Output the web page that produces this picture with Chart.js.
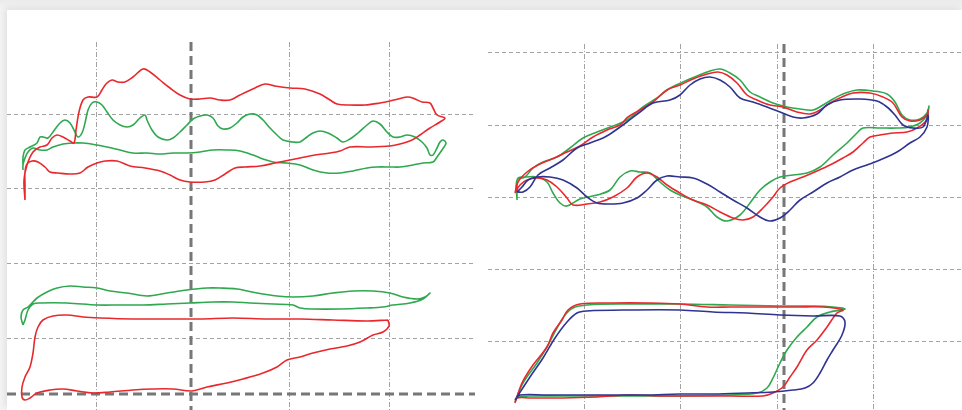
<!DOCTYPE html>
<html>
<head>
<meta charset="utf-8">
<script src="https://cdn.jsdelivr.net/npm/chart.js@4/dist/chart.umd.min.js"></script>
<style>
  html, body { margin:0; padding:0; width:962px; height:410px; overflow:hidden;
               background:linear-gradient(#ebebeb, #f4f4f4 10px, #f4f4f4); }
  #card { position:absolute; left:7px; top:10px; width:955px; height:400px; background:#fff;
          box-shadow:-2px -2px 7px rgba(0,0,0,0.09); }
  canvas { position:absolute; }
  #cl { left:7px; top:42px; }
  #cr { left:488px; top:44px; }
</style>
</head>
<body>
<div id="card"></div>
<canvas id="cl" width="468" height="368"></canvas>
<canvas id="cr" width="474" height="366"></canvas>
<script>
// ---------- grid / reference values (data units) ----------
const leftGridX  = [8.9, 28.2, 38.2];
const leftGridY  = [29.6, 22.2, 14.7, 7.2];
const leftRefX   = [18.4];
const leftRefY   = [1.6];
const rightGridX = [9.6, 19.2, 28.9, 38.5];
const rightGridY = [35.8, 28.5, 21.3, 14.1, 6.9];
const rightRefX  = [29.6];
const rightRefY  = [];

// ---------- left, upper loops ----------
const ltRed = [[1.8,21.0],[1.7,23.0],[2.0,24.5],[2.6,25.8],[3.3,26.3],[4.0,26.5],[4.5,27.2],[5.0,27.5],[5.6,27.3],[6.3,26.9],[6.7,26.7],[6.9,28.0],[7.2,29.8],[7.6,31.0],[8.1,31.3],[9.0,31.3],[9.5,32.0],[9.9,32.6],[10.5,33.0],[11.1,32.8],[11.8,32.8],[12.6,33.3],[13.6,34.1],[14.3,33.8],[15.3,33.0],[16.3,32.2],[17.3,31.5],[18.3,31.1],[19.3,31.1],[20.3,31.2],[21.3,31.0],[22.3,31.0],[23.3,31.5],[24.8,32.2],[25.8,32.6],[26.8,32.4],[28.3,32.2],[29.8,32.1],[31.3,31.6],[32.3,31.0],[33.0,30.6],[34.3,30.5],[35.8,30.5],[37.3,30.7],[38.3,30.9],[39.1,31.1],[40.1,31.3],[40.8,31.1],[41.5,30.8],[42.3,30.7],[42.6,30.2],[43.0,29.5],[43.8,29.2],
  [43.3,28.8],[42.3,28.2],[41.3,27.5],[40.5,27.0],[39.3,26.6],[38.3,26.4],[36.3,26.3],[34.3,26.3],[33.3,25.9],[32.3,25.7],[30.8,25.5],[29.3,25.2],[28.3,25.0],[26.8,24.7],[25.3,24.4],[23.8,24.3],[22.8,24.2],[21.8,23.6],[20.8,23.0],[19.8,22.8],[18.3,22.8],[17.3,23.0],[16.3,23.5],[15.3,23.9],[13.8,24.2],[12.3,24.4],[11.0,24.9],[9.8,24.9],[9.0,24.7],[8.1,24.3],[7.3,23.7],[6.3,23.6],[5.1,23.7],[4.3,23.8],[3.8,24.3],[3.1,24.8],[2.5,24.9],[2.0,24.6],[1.8,23.8],[1.8,22.5],[1.8,21.0]];
const ltGreen = [[1.6,24.5],[1.6,25.3],[1.8,26.0],[2.3,26.3],[3.0,26.7],[3.3,27.3],[3.6,27.3],[4.1,27.2],[4.6,27.8],[5.3,28.7],[5.8,29.0],[6.3,28.7],[6.8,27.8],[7.1,27.3],[7.5,27.7],[7.8,28.7],[8.1,30.0],[8.5,30.7],[9.0,30.8],[9.5,30.5],[10.0,29.8],[10.6,29.0],[11.3,28.5],[12.0,28.3],[12.6,28.5],[13.3,29.2],[13.8,29.5],[14.0,29.0],[14.5,28.0],[15.1,27.3],[16.0,27.0],[16.6,27.2],[17.3,27.8],[18.0,28.5],[18.6,29.1],[19.3,29.4],[20.0,29.5],[20.6,29.2],[21.1,28.4],[21.6,28.1],[22.3,28.2],[23.0,28.7],[23.6,29.3],[24.3,29.6],[25.0,29.5],[25.6,29.0],[26.3,28.2],[27.0,27.5],[27.6,27.0],[28.6,26.8],[29.3,26.8],[30.0,27.3],[30.6,27.7],[31.3,27.9],[32.1,27.7],[33.0,27.2],[33.6,26.8],[34.3,27.1],[35.1,27.7],[36.0,28.5],[36.6,28.9],[37.3,28.6],[38.0,27.8],[38.6,27.3],[39.3,27.3],[40.0,27.5],[40.8,27.3],[41.5,26.8],[42.0,26.2],[42.3,25.5],[42.6,25.5],[43.0,26.2],[43.3,26.8],[43.6,27.0],[43.9,26.7],[43.7,26.3],
  [43.0,25.3],[42.6,24.8],[41.6,24.7],[40.6,24.5],[39.3,24.3],[38.3,24.3],[37.0,24.3],[36.0,24.2],[34.6,23.9],[33.3,23.7],[32.0,23.7],[30.6,24.0],[29.3,24.5],[28.0,24.7],[26.6,24.8],[25.6,25.1],[24.6,25.5],[23.3,25.9],[22.0,26.0],[20.6,26.0],[19.3,25.8],[18.0,25.7],[16.6,25.7],[15.3,25.6],[14.0,25.7],[12.6,25.7],[11.3,26.0],[10.0,26.3],[9.0,26.5],[7.6,26.7],[6.6,26.7],[5.6,26.6],[4.6,26.3],[4.0,26.0],[3.3,26.0],[2.6,26.2],[2.1,25.8],[1.8,25.2],[1.6,24.5],[1.6,24.0]];

// ---------- left, lower loops ----------
const lbGreen = [[1.6,8.5],[1.4,9.3],[1.6,10.0],[2.1,10.3],[3.0,11.2],[4.0,11.8],[5.0,12.2],[6.3,12.4],[7.6,12.3],[9.0,12.2],[10.3,11.9],[12.0,11.7],[14.0,11.4],[16.0,11.7],[18.0,12.0],[20.0,12.2],[21.3,12.2],[23.0,12.1],[25.0,11.7],[27.0,11.4],[28.6,11.3],[30.6,11.4],[32.6,11.7],[34.6,11.9],[36.6,11.9],[38.3,11.7],[39.6,11.3],[41.0,11.1],[41.8,11.3],[42.3,11.7],
  [41.6,11.1],[40.3,10.7],[38.6,10.5],[37.6,10.3],[36.0,10.2],[33.3,10.1],[30.6,10.1],[29.3,10.2],[28.6,10.5],[26.6,10.6],[24.3,10.7],[22.6,10.8],[20.6,10.8],[18.3,10.7],[16.0,10.6],[13.6,10.5],[11.3,10.5],[9.0,10.5],[6.0,10.7],[3.3,10.7],[2.6,10.6],[2.1,10.0],[1.8,9.0],[1.6,8.5]];
const lbRed = [[38.1,9.0],[36.0,8.9],[32.6,9.0],[29.3,9.1],[26.0,9.1],[22.6,9.2],[19.3,9.1],[16.0,9.1],[12.6,9.1],[9.3,9.2],[7.6,9.3],[6.0,9.5],[4.6,9.4],[3.6,9.0],[3.1,8.3],[2.8,7.3],[2.6,5.7],[2.3,4.3],[1.8,3.3],[1.5,2.3],[1.5,1.3],[1.8,1.0],[2.3,1.2],[3.0,1.7],[4.3,2.0],[5.6,2.1],[7.0,1.9],[8.6,1.7],[10.3,1.8],[12.6,2.0],[14.6,2.1],[16.6,2.1],[18.5,1.9],[20.0,2.3],[22.0,2.7],[23.6,3.1],[25.6,3.7],[27.0,4.3],[28.0,5.0],[29.3,5.3],[30.6,5.7],[32.3,6.1],[34.0,6.4],[35.3,6.8],[36.6,7.5],[37.6,7.8],[38.2,8.4],[38.1,9.0]];

// ---------- right, upper loops ----------
const rtBlue = [[2.9,21.8],[3.5,21.8],[4.2,22.3],[5.0,23.5],[6.2,24.2],[7.5,25.0],[8.9,26.2],[10.2,26.7],[11.5,27.2],[12.5,27.8],[13.9,28.8],[15.2,29.8],[16.5,30.7],[18.2,31.0],[19.2,31.5],[20.2,32.5],[21.2,33.1],[22.2,33.3],[23.2,33.0],[24.2,32.3],[25.2,31.2],[26.5,30.8],[27.9,30.3],[29.2,29.8],[30.5,29.3],[31.5,29.2],[32.9,29.6],[33.9,30.5],[35.2,31.0],[37.2,31.1],[38.9,30.9],[39.9,30.3],[40.7,29.5],[41.5,28.5],[42.5,28.2],[43.5,28.3],[44.0,29.5],
  [43.9,28.3],[43.2,27.3],[42.2,26.7],[40.9,25.8],[39.2,25.0],[37.9,24.5],[36.5,24.0],[35.2,23.3],[33.9,22.7],[32.5,21.8],[31.2,21.0],[30.2,20.0],[29.2,19.2],[28.2,18.9],[27.2,19.3],[25.9,20.2],[24.5,21.0],[23.2,21.8],[21.9,22.6],[20.5,23.2],[19.2,23.3],[17.9,23.4],[16.9,23.0],[15.9,22.0],[14.9,21.2],[13.5,20.7],[12.2,20.6],[10.9,20.7],[9.9,21.3],[8.9,22.2],[7.5,23.0],[6.2,23.3],[4.9,23.3],[4.0,23.0],[3.4,22.3],[2.9,21.8]];
const rtRed = [[2.7,21.7],[3.0,22.8],[3.9,23.8],[5.0,24.5],[6.4,25.1],[7.9,25.8],[9.2,26.4],[10.5,27.3],[11.9,28.0],[13.2,28.5],[14.0,29.3],[15.2,30.0],[16.5,30.8],[17.9,32.0],[19.2,32.5],[20.5,33.1],[21.9,33.6],[23.0,33.8],[23.9,33.5],[24.9,32.7],[25.9,31.5],[26.9,31.0],[28.2,30.5],[29.5,30.3],[30.9,29.8],[32.2,29.6],[33.2,30.0],[34.2,30.7],[35.4,31.3],[36.5,31.7],[38.2,31.7],[39.5,31.3],[40.5,30.7],[41.4,29.3],[42.2,28.9],[43.2,29.0],[43.9,29.5],[44.0,30.0],
  [43.9,29.0],[42.9,28.2],[41.9,27.8],[40.5,27.7],[39.2,27.5],[38.2,27.3],[37.5,26.7],[36.5,25.8],[35.5,25.2],[34.2,24.5],[32.9,23.9],[31.5,23.3],[30.2,22.8],[29.2,22.2],[28.5,21.3],[27.5,20.2],[26.5,19.3],[25.5,19.0],[24.5,19.2],[23.2,19.8],[21.9,20.5],[20.5,21.0],[19.2,21.7],[17.9,22.5],[16.9,23.3],[15.9,23.7],[14.9,23.3],[13.9,22.2],[12.5,21.3],[11.2,20.8],[9.9,20.6],[8.5,20.5],[7.9,21.2],[6.9,22.3],[5.9,23.0],[4.9,23.2],[3.9,23.0],[3.2,22.5],[2.7,21.7]];
const rtGreen = [[2.9,21.0],[2.9,23.0],[3.7,23.3],[4.5,24.2],[5.5,24.8],[6.9,25.3],[8.2,26.2],[9.5,27.2],[10.9,27.8],[12.5,28.4],[13.9,29.0],[15.5,30.3],[16.9,31.2],[17.9,32.0],[19.5,32.8],[20.9,33.4],[22.2,33.9],[23.2,34.1],[24.2,33.7],[25.2,33.0],[26.2,31.8],[27.2,31.3],[28.5,30.7],[29.9,30.3],[31.2,30.1],[32.5,30.0],[33.5,30.5],[34.5,31.1],[35.5,31.6],[36.9,32.0],[38.5,31.9],[39.9,31.6],[40.7,30.8],[41.4,29.5],[42.2,29.0],[43.2,29.1],[43.9,29.7],[44.1,30.4],
  [43.9,29.5],[43.2,28.7],[42.2,28.3],[40.9,28.2],[39.2,28.2],[37.5,28.2],[36.9,27.7],[35.9,26.7],[34.5,25.5],[33.2,24.3],[31.9,23.7],[30.5,23.5],[29.2,23.3],[28.2,22.8],[27.2,22.0],[26.2,20.7],[25.2,19.5],[23.9,18.9],[22.9,19.3],[21.9,20.3],[20.5,21.0],[19.2,21.5],[18.2,22.0],[17.2,22.8],[16.2,23.7],[15.2,23.8],[14.2,23.9],[13.2,23.3],[12.2,22.0],[10.9,21.5],[9.2,21.1],[7.9,20.4],[7.2,20.7],[6.5,21.7],[5.9,22.8],[4.9,23.3],[3.9,23.3],[3.0,23.2],[2.9,22.3],[2.9,21.0]];

// ---------- right, lower loops ----------
const rbRed = [[2.7,0.7],[3.4,2.7],[4.5,4.5],[5.9,6.3],[6.5,7.7],[7.4,9.0],[8.0,10.0],[9.2,10.6],[12.5,10.7],[15.9,10.7],[19.2,10.6],[21.9,10.3],[24.2,10.3],[27.5,10.3],[30.9,10.3],[33.5,10.3],[35.5,10.0],
  [34.9,9.7],[33.9,8.3],[32.9,7.0],[31.9,6.0],[30.9,4.3],[30.2,3.3],[29.5,2.3],[28.5,1.7],[27.5,1.4],[24.2,1.4],[20.9,1.4],[17.5,1.4],[14.2,1.5],[10.9,1.3],[7.5,1.2],[4.2,1.2],[2.9,1.2],[2.7,0.7]];
const rbBlue = [[2.7,1.0],[4.2,3.3],[5.5,5.2],[6.7,7.2],[7.9,8.8],[8.9,9.7],[9.9,9.9],[14.2,10.0],[19.2,10.0],[22.5,9.8],[25.9,9.7],[29.2,9.5],[32.5,9.4],[35.2,9.4],[35.7,8.8],
  [35.4,7.5],[34.5,6.0],[33.9,5.0],[33.2,3.7],[32.5,2.7],[31.7,2.2],[30.5,2.0],[28.5,1.8],[25.9,1.7],[22.5,1.6],[19.2,1.6],[15.9,1.5],[12.5,1.5],[9.2,1.5],[5.9,1.5],[3.2,1.5],[2.7,1.0]];
const rbGreen = [[2.7,0.8],[3.5,2.7],[4.9,4.7],[6.0,6.5],[6.9,8.2],[7.7,9.5],[8.5,10.2],[9.9,10.5],[14.2,10.6],[19.2,10.6],[24.2,10.5],[29.2,10.4],[32.5,10.4],[34.5,10.3],[35.7,10.1],
  [34.2,9.8],[32.9,9.3],[31.9,8.3],[30.9,7.3],[29.9,6.0],[29.2,4.7],[28.5,3.2],[27.9,2.2],[26.9,1.7],[24.2,1.5],[19.2,1.4],[14.2,1.4],[9.2,1.4],[4.2,1.4],[2.9,1.3]];

const RED = '#e9282d', GREEN = '#2fa84f', BLUE = '#2f3391';

function ds(arr, color) {
  return {
    data: arr.map(p => ({x:p[0], y:p[1]})),
    showLine: true, borderColor: color, backgroundColor: color,
    borderWidth: 1.6, pointRadius: 0, tension: 0.35, fill: false
  };
}

const gridPlugin = {
  id: 'gridPlugin',
  beforeDatasetsDraw(chart, args, opts) {
    const {ctx, chartArea: a, scales: {x, y}} = chart;
    ctx.save();
    ctx.lineWidth = 1;
    ctx.strokeStyle = '#a3a3a3';
    ctx.setLineDash([5, 2, 1, 2]);
    opts.gx.forEach(v => { const p = Math.round(x.getPixelForValue(v)) + 0.5;
      ctx.beginPath(); ctx.moveTo(p, a.top); ctx.lineTo(p, a.bottom); ctx.stroke(); });
    ctx.setLineDash([4, 3]);
    opts.gy.forEach(v => { const p = Math.round(y.getPixelForValue(v)) + 0.5;
      ctx.beginPath(); ctx.moveTo(a.left, p); ctx.lineTo(a.right, p); ctx.stroke(); });
    ctx.lineWidth = 3;
    ctx.strokeStyle = '#777777';
    ctx.setLineDash([9, 5]);
    opts.rx.forEach(v => { const p = x.getPixelForValue(v);
      ctx.beginPath(); ctx.moveTo(p, a.top); ctx.lineTo(p, a.bottom); ctx.stroke(); });
    opts.ry.forEach(v => { const p = y.getPixelForValue(v);
      ctx.beginPath(); ctx.moveTo(a.left, p); ctx.lineTo(a.right, p); ctx.stroke(); });
    ctx.restore();
  }
};

function make(id, sets, xmax, ymax, gx, gy, rx, ry) {
  return new Chart(document.getElementById(id), {
    type: 'scatter',
    data: { datasets: sets },
    plugins: [gridPlugin],
    options: {
      responsive: false, animation: false, devicePixelRatio: 1,
      layout: { padding: 0 },
      plugins: { legend: {display:false}, tooltip: {enabled:false}, gridPlugin: {gx, gy, rx, ry} },
      scales: {
        x: { type:'linear', min:0, max:xmax, display:false },
        y: { type:'linear', min:0, max:ymax, display:false }
      }
    }
  });
}

make('cl', [ds(ltRed, RED), ds(ltGreen, GREEN), ds(lbGreen, GREEN), ds(lbRed, RED)],
     46.8, 36.8, leftGridX, leftGridY, leftRefX, leftRefY);
make('cr', [ds(rtBlue, BLUE), ds(rtRed, RED), ds(rtGreen, GREEN), ds(rbBlue, BLUE), ds(rbRed, RED), ds(rbGreen, GREEN)],
     47.4, 36.6, rightGridX, rightGridY, rightRefX, rightRefY);
</script>
</body>
</html>
